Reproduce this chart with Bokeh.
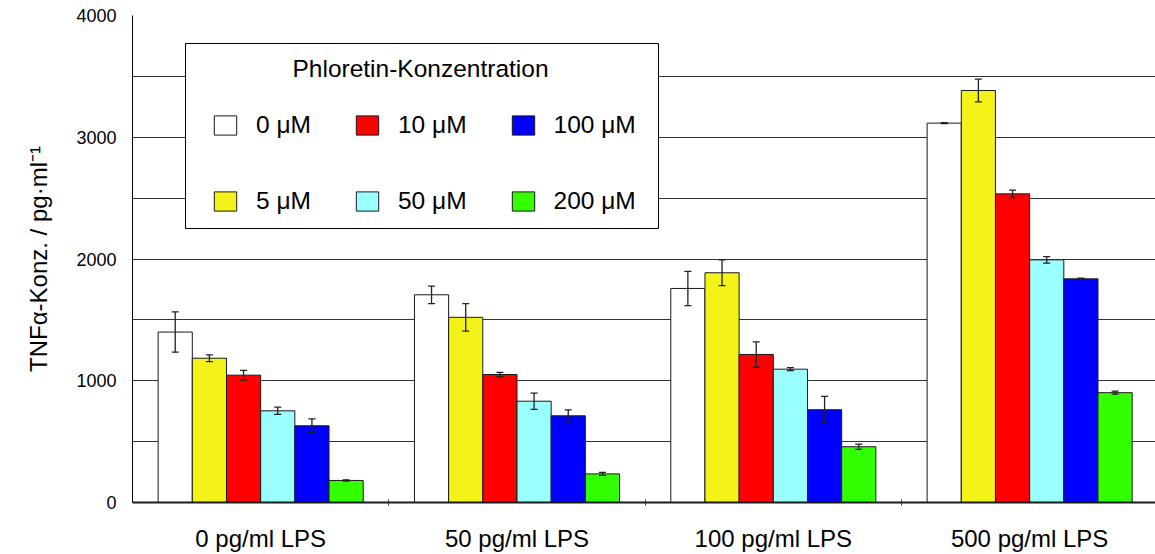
from bokeh.plotting import figure
from bokeh.models import (ColumnDataSource, Range1d, FixedTicker, Legend, LegendItem,
                          Whisker, TeeHead, BoxAnnotation, Label)
from bokeh.embed import file_html
from bokeh.resources import INLINE

# ---- data ----
categories = ["0 pg/ml LPS", "50 pg/ml LPS", "100 pg/ml LPS", "500 pg/ml LPS"]
concentrations = ["0 μM", "5 μM", "10 μM", "50 μM", "100 μM", "200 μM"]
colors = ["#FFFFFF", "#F3F31A", "#FF0000", "#99FFFF", "#0000FF", "#33FF00"]

tnf_0uM = [1400, 1706, 1758, 3116]
tnf_5uM = [1185, 1521, 1887, 3384]
tnf_10uM = [1046, 1051, 1216, 2535]
tnf_50uM = [753, 832, 1095, 1993]
tnf_100uM = [630, 712, 762, 1837]
tnf_200uM = [181, 235, 458, 902]

err_0uM = [165, 72, 141, 3]
err_5uM = [28, 113, 105, 93]
err_10uM = [40, 18, 103, 30]
err_50uM = [30, 67, 12, 27]
err_100uM = [57, 49, 110, 5]
err_200uM = [5, 12, 22, 12]

y_ticks = [0, 1000, 2000, 3000, 4000]
grid_ticks = [0, 500, 1000, 1500, 2000, 2500, 3000, 3500, 4000]

values = [tnf_0uM, tnf_5uM, tnf_10uM, tnf_50uM, tnf_100uM, tnf_200uM]
errors = [err_0uM, err_5uM, err_10uM, err_50uM, err_100uM, err_200uM]

FONT = "Liberation Sans"

p = figure(width=1155, height=554, output_backend="svg", toolbar_location=None,
           x_range=Range1d(0, 3.991), y_range=Range1d(0, 4000),
           min_border_left=132, min_border_right=0, min_border_top=15,
           min_border_bottom=52)
p.outline_line_color = None
p.background_fill_color = "white"
p.border_fill_color = "white"

n = len(concentrations)
group_span = 0.8
bw = group_span / n
renderers = []
for j in range(n):
    xs = [i + (1 - group_span) / 2 + (j + 0.5) * bw for i in range(len(categories))]
    vals = values[j]
    errs = errors[j]
    src = ColumnDataSource(dict(x=xs, top=vals,
                                upper=[v + e for v, e in zip(vals, errs)],
                                lower=[v - e for v, e in zip(vals, errs)]))
    r = p.vbar(x="x", top="top", bottom=0, width=bw, source=src,
               fill_color=colors[j], line_color="#1a1a1a", line_width=1)
    renderers.append(r)
    w = Whisker(base="x", upper="upper", lower="lower", source=src,
                line_color="#222222", line_width=1.3, level="glyph",
                upper_head=TeeHead(size=7, line_color="#222222", line_width=1.3),
                lower_head=TeeHead(size=7, line_color="#222222", line_width=1.3))
    p.add_layout(w)

# grid
p.xgrid.visible = False
p.ygrid.ticker = FixedTicker(ticks=grid_ticks)
p.ygrid.grid_line_color = "#333333"
p.ygrid.grid_line_width = 1

# y axis
p.yaxis.ticker = FixedTicker(ticks=y_ticks)
p.yaxis.major_tick_out = 0
p.yaxis.major_tick_in = 0
p.yaxis.minor_tick_out = 0
p.yaxis.minor_tick_in = 0
p.yaxis.axis_line_color = "black"
p.yaxis.axis_line_width = 1
p.yaxis.major_label_text_font = FONT
p.yaxis.major_label_text_font_size = "18px"
p.yaxis.major_label_text_color = "black"
p.yaxis.major_label_standoff = 16
p.yaxis.axis_label = "TNFα-Konz. / pg·ml⁻¹"
p.yaxis.axis_label_text_font = FONT
p.yaxis.axis_label_text_font_size = "24px"
p.yaxis.axis_label_text_font_style = "normal"
p.yaxis.axis_label_text_color = "black"
p.yaxis.axis_label_standoff = 21

# x axis
centers = [i + 0.5 for i in range(len(categories))]
p.xaxis.ticker = FixedTicker(ticks=centers, minor_ticks=[1, 2, 3])
p.xaxis.major_label_overrides = {c: lab for c, lab in zip(centers, categories)}
p.xaxis.major_tick_out = 0
p.xaxis.major_tick_in = 0
p.xaxis.minor_tick_out = 3
p.xaxis.minor_tick_in = 3
p.xaxis.minor_tick_line_color = "#333333"
p.xaxis.axis_line_color = "#1a1a1a"
p.xaxis.axis_line_width = 2
p.xaxis.major_label_text_font = FONT
p.xaxis.major_label_text_font_size = "24px"
p.xaxis.major_label_text_color = "black"
p.xaxis.major_label_standoff = 19

# legend frame + title
box = BoxAnnotation(left=53, right=526, bottom=274, top=459,
                    left_units="screen", right_units="screen",
                    bottom_units="screen", top_units="screen",
                    fill_color="white", fill_alpha=1.0,
                    line_color="black", line_alpha=1.0, line_width=1)
p.add_layout(box)
title = Label(x=288, y=434.5, x_units="screen", y_units="screen",
              text="Phloretin-Konzentration", text_align="center",
              text_baseline="middle", text_font=FONT, text_font_size="24.5px",
              text_color="black")
p.add_layout(title)

# legend (row-major: 0,10,100 / 5,50,200)
order = [0, 2, 4, 1, 3, 5]
items = [LegendItem(label=concentrations[k], renderers=[renderers[k]]) for k in order]
legend = Legend(items=items, orientation="horizontal", ncols=3,
                location=(79, 284),
                label_text_font=FONT, label_text_font_size="24.5px",
                label_text_color="black",
                glyph_width=28, glyph_height=24, label_standoff=17,
                label_height=34,
                spacing=42, padding=0, margin=0,
                border_line_color=None,
                background_fill_alpha=0)
p.add_layout(legend)

open("out.html", "w").write(file_html(p, INLINE))
